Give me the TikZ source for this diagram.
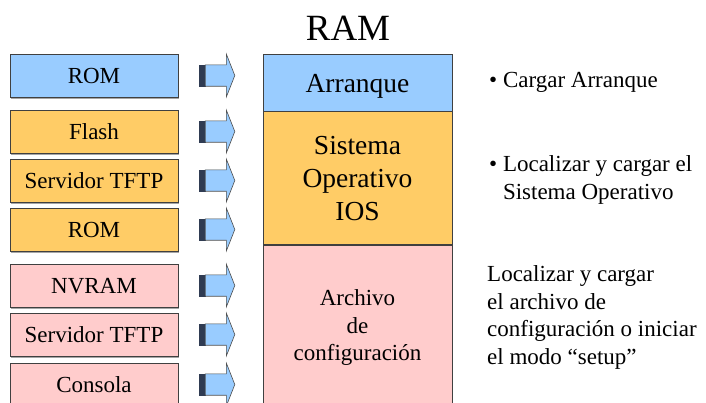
\documentclass[tikz,border=0pt]{standalone}
\usepackage{fontspec}
\setmainfont{Liberation Serif}
\usetikzlibrary{calc, positioning, shadows}

\definecolor{bootblue}{HTML}{99CCFF}
\definecolor{iosorange}{HTML}{FFCC66}
\definecolor{cfgpink}{HTML}{FFCCCC}
\definecolor{stripedark}{HTML}{2F3B52}

\begin{document}
\begin{tikzpicture}[
    x=1pt, y=-1pt,
    srcbox/.style={
        rectangle, draw=black!75, line width=0.8pt,
        minimum width=168pt, minimum height=43pt, inner sep=0pt,
        font=\fontsize{23}{27.5}\selectfont, text height=16.5pt, text depth=0pt,
        drop shadow={shadow xshift=0.8pt, shadow yshift=-1.6pt, fill=black!35, opacity=1}
    },
    ramblock/.style={
        rectangle, draw=black!75, line width=0.8pt,
        minimum width=189pt, inner sep=0pt, align=center
    },
    note/.style={
        anchor=base west, align=left, inner sep=0pt,
        font=\fontsize{23}{27.7}\selectfont
    },
    stripe/.style={fill=stripedark, draw=stripedark, line width=0.4pt},
    blockarrow/.style={fill=bootblue, draw=black!70, line width=0.6pt}
]
    \useasboundingbox (0,0) rectangle (706,402);
    \clip (0,0) rectangle (706,402);

    % =========================================================================
    % SOURCES (LEFT)
    % =========================================================================
    \node [srcbox, fill=bootblue] (src_rom_boot) at (94, 75.5) {ROM};

    \node [srcbox, fill=iosorange] (src_flash) at (94, 131.5) {Flash};
    \node [srcbox, fill=iosorange] (src_tftp_ios) at (94, 180.5) {Servidor TFTP};
    \node [srcbox, fill=iosorange] (src_rom_ios) at (94, 229.5) {ROM};

    \node [srcbox, fill=cfgpink] (src_nvram) at (94, 285.5) {NVRAM};
    \node [srcbox, fill=cfgpink] (src_tftp_cfg) at (94, 334.5) {Servidor TFTP};
    \node [srcbox, fill=cfgpink] (src_console) at (94, 384.5) {Consola};

    % =========================================================================
    % BLOCK ARROWS
    % =========================================================================
    \foreach \src in {src_rom_boot, src_flash, src_tftp_ios, src_rom_ios, src_nvram, src_tftp_cfg, src_console} {
        \path (\src.east) ++(21, 0) coordinate (a);
        \draw [stripe] ($(a)+(0,-10.7)$) rectangle ($(a)+(2.4,10.7)$);
        \draw [stripe] ($(a)+(3.4,-10.7)$) rectangle ($(a)+(5.6,10.7)$);
        \draw [blockarrow] ($(a)+(5.8,-10.7)$) -- ++(21.2,0) -- ++(0,-10.6)
            -- ($(a)+(35.4,0)$) -- ($(a)+(27,21.3)$) -- ++(0,-10.6) -- ++(-21.2,0) -- cycle;
    }

    % =========================================================================
    % RAM COLUMN (CENTRE)
    % =========================================================================
    \node [font=\fontsize{37}{40}\selectfont, inner sep=0pt, text height=25pt, text depth=0pt] (ram_title) at (348, 27.5) {RAM};

    \node [ramblock, fill=bootblue, minimum height=57pt, font=\fontsize{27.5}{33}\selectfont,
           text height=20.4pt, text depth=0pt] (ram_boot) at (357.5, 82.5) {Arranque};
    \node [ramblock, fill=iosorange, minimum height=133pt, font=\fontsize{27.5}{33}\selectfont,
           below=0pt of ram_boot] (ram_ios) {Sistema\\Operativo\\IOS};
    \node [ramblock, fill=cfgpink, minimum height=164pt, font=\fontsize{23}{27.7}\selectfont,
           below=0pt of ram_ios] (ram_cfg) {Archivo\\de\\configuración};

    % =========================================================================
    % NOTES (RIGHT)
    % =========================================================================
    % base anchor of a multi-line note sits on its last line
    \node [note] (note_boot) at (489, 87) {\textbullet\ Cargar Arranque};
    \node [note] (note_ios) at (489, 199.5) {\textbullet\ Localizar y cargar el\\\hphantom{\textbullet}\ Sistema Operativo};
    \node [note] (note_cfg) at (487, 364.5) {Localizar y cargar\\el archivo de\\configuración o iniciar\\el modo “setup”};

\end{tikzpicture}
\end{document}
